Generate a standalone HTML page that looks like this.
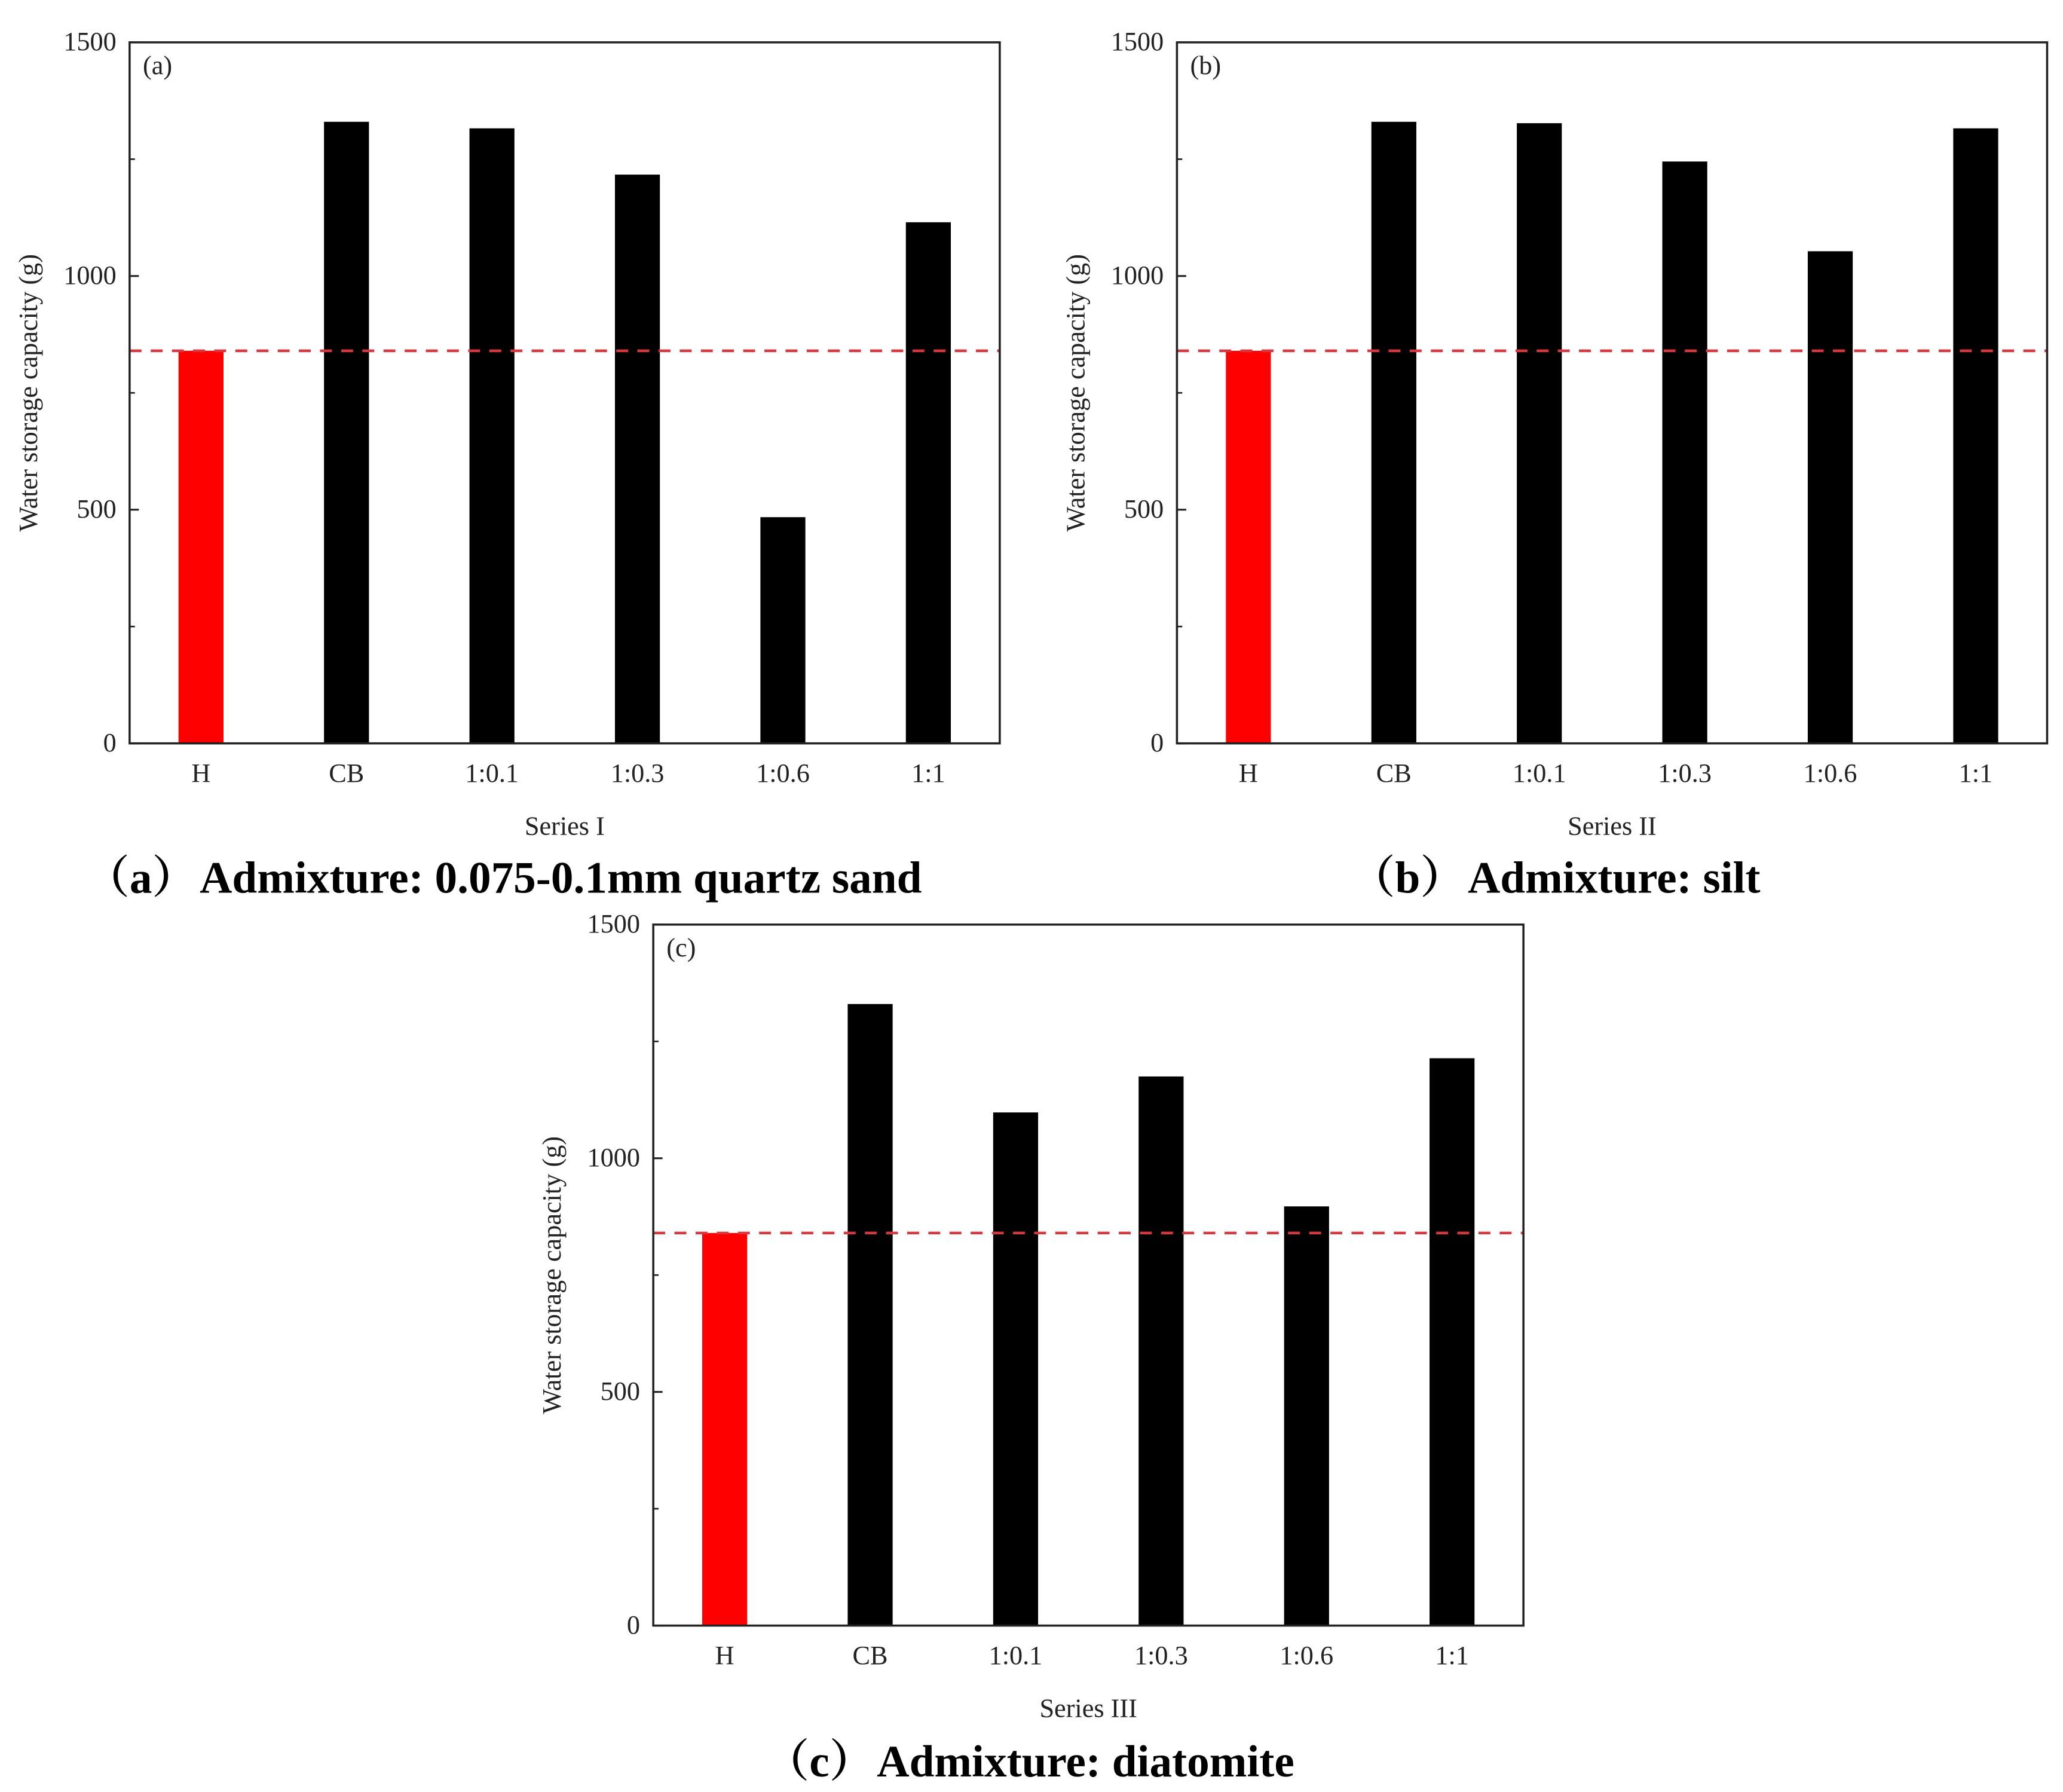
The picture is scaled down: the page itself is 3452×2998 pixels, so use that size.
<!DOCTYPE html>
<html><head><meta charset="utf-8"><style>
html,body{margin:0;padding:0;background:#fff;}
svg{display:block;}
.tk{font-family:"Liberation Serif","Noto Serif CJK SC",serif;font-size:20px;fill:#222;}
.cap{font-family:"Liberation Serif","Noto Serif CJK SC",serif;font-size:34px;font-weight:bold;fill:#000;}
</style></head><body>
<svg id="fig" width="3452" height="2998" viewBox="0 0 1560 1354.8" xmlns="http://www.w3.org/2000/svg"></svg>
<script>
const categories = ["H","CB","1:0.1","1:0.3","1:0.6","1:1"];
const seriesA = [840,1330,1316,1217,484,1115];
const seriesB = [840,1330,1327,1245,1053,1316];
const seriesC = [840,1330,1098,1175,897,1214];
const yTicks = [0,500,1000,1500];
const yMinor = [250,750,1250];
const refLine = 840;
const panelLabels = ["(a)","(b)","(c)"];
const xTitles = ["Series I","Series II","Series III"];
const capPrefix = ["（a）","（b）","（c）"];
const capText = ["Admixture: 0.075-0.1mm quartz sand","Admixture: silt","Admixture: diatomite"];

const NS="http://www.w3.org/2000/svg";
const svg=document.getElementById('fig');
function mk(tag,attrs,parent,text){const e=document.createElementNS(NS,tag);for(const k in attrs)e.setAttribute(k,attrs[k]);if(text!==undefined)e.textContent=text;(parent||svg).appendChild(e);return e;}

const panels=[
 {x:98,y:32,data:seriesA,capX:64,capY:675},
 {x:890,y:32,data:seriesB,capX:1021,capY:675},
 {x:494,y:699,data:seriesC,capX:578,capY:1343}
];
const W=658,H=530,YMAX=1500;
panels.forEach((p,i)=>{
  const g=mk('g',{});
  
  
  const ys=v=>p.y+H-v/YMAX*H;
  const xs=j=>p.x+54+j*110;
  p.data.forEach((v,j)=>{
    const r=mk('rect',{x:xs(j)-17,y:ys(v),width:34,height:p.y+H-ys(v),fill:j===0?'#ff0000':'#000'},g);
    
    
    const t=mk('text',{x:xs(j),y:p.y+H+29,'text-anchor':'middle',class:'tk'},g,categories[j]);
    
    
  });
  const ln=mk('line',{x1:p.x,x2:p.x+W,y1:ys(refLine),y2:ys(refLine),stroke:'#d9363e','stroke-width':2,'stroke-dasharray':'9,7'},g);
  
  
  const fr=mk('rect',{x:p.x,y:p.y,width:W,height:H,fill:'none',stroke:'#222','stroke-width':1.6},g);
  
  
  yTicks.forEach(v=>{
    mk('line',{x1:p.x,x2:p.x+7,y1:ys(v),y2:ys(v),stroke:'#222','stroke-width':1.4},g);
    const t=mk('text',{x:p.x-10,y:ys(v)+6,'text-anchor':'end',class:'tk'},g,String(v));
    
    
  });
  yMinor.forEach(v=>mk('line',{x1:p.x,x2:p.x+4,y1:ys(v),y2:ys(v),stroke:'#222','stroke-width':1.2},g));
  const pl=mk('text',{x:p.x+10,y:p.y+24,class:'tk'},g,panelLabels[i]);
  
  
  const yt=mk('text',{x:0,y:0,'text-anchor':'middle',class:'tk',transform:`translate(${p.x-70},${p.y+H/2}) rotate(-90)`},g,'Water storage capacity (g)');
  
  
  const xt=mk('text',{x:p.x+W/2,y:p.y+H+69,'text-anchor':'middle',class:'tk'},g,xTitles[i]);
  
  
  const c=mk('text',{x:p.capX,y:p.capY,class:'cap'},g);
  
  
  mk('tspan',{},c,capPrefix[i]);
  mk('tspan',{dx:2},c,capText[i]);
});
</script>
</body></html>
